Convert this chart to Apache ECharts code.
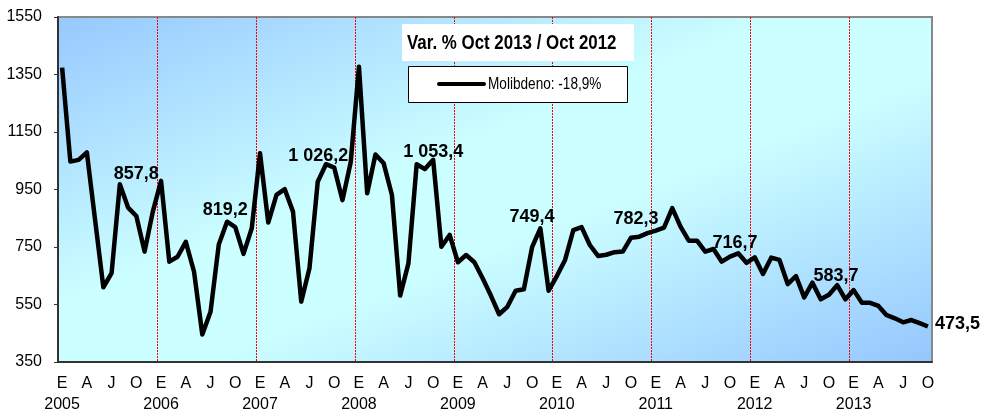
<!DOCTYPE html>
<html>
<head>
<meta charset="utf-8">
<title>Molibdeno</title>
<script src="https://cdn.jsdelivr.net/npm/echarts@6/dist/echarts.min.js"></script>
<style>
  body { margin: 0; background: #fff; }
  #main { width: 984px; height: 416px; }
</style>
</head>
<body>
<div id="main"></div>
<script>
// meses en castellano, se muestran solo E A J O
var monthLetters = ['E', 'F', 'M', 'A', 'M', 'J', 'J', 'A', 'S', 'O', 'N', 'D']
var years = [2005, 2006, 2007, 2008, 2009, 2010, 2011, 2012, 2013]
var lastMonthCount = 10 // hasta octubre 2013

// valores mensuales
var values2005 = [1374, 1047, 1053, 1079, 844, 610, 659, 968, 887, 857.8, 734, 873]
var values2006 = [980, 699, 716, 768, 664, 446, 525, 759, 838, 819.2, 726, 815]
var values2007 = [1076, 835, 931, 951, 873, 560, 676, 977, 1038, 1026.2, 913, 1045]
var values2008 = [1377, 937, 1072, 1041, 931, 581, 693, 1038, 1021, 1053.4, 751, 792]
var values2009 = [697, 722, 697, 641, 581, 516, 542, 598, 603, 749.4, 815, 598]
var values2010 = [649, 705, 809, 819, 757, 719, 723, 732, 734, 782.3, 786, 798]
var values2011 = [807, 817, 885, 821, 772, 772, 734, 743, 699, 716.7, 728, 695]
var values2012 = [714, 656, 713, 705, 621, 649, 575, 626, 568, 583.7, 617, 568]
var values2013 = [600, 556, 556, 545, 513, 502, 488, 496, 485, 473.5]

var yTicks = [350, 550, 750, 950, 1150, 1350, 1550]
var seriesName = 'Molibdeno'
var variation = '-18,9%'
var titleText = 'Var. % Oct 2013 / Oct 2012'

// meses con etiqueta (octubre de cada año)
var labeledMonths = [9, 21, 33, 45, 57, 69, 81, 93, 105]

// desplazamientos de las etiquetas (solo estilo)
var labelOffsets = {
  9: [0, -28],
  21: [-10, -3],
  33: [-16, 2],
  45: [0, 6],
  57: [0, -16],
  69: [5, -5],
  81: [5, 0],
  93: [7, -5]
}

var allValues = [].concat(values2005, values2006, values2007, values2008,
  values2009, values2010, values2011, values2012, values2013)

var categories = []
for (var y = 0; y < years.length; y++) {
  var n = y === years.length - 1 ? lastMonthCount : 12
  for (var m = 0; m < n; m++) {
    categories.push(m === 0 ? monthLetters[m] + '\n' + years[y] : monthLetters[m])
  }
}

function fmt(v) {
  var parts = v.toFixed(1).split('.')
  var intPart = parts[0].replace(/\B(?=(\d{3})+(?!\d))/g, ' ')
  return intPart + ',' + parts[1]
}

var lineData = allValues.map(function(v, i) {
  if (labeledMonths.indexOf(i) < 0) return v
  var last = i === allValues.length - 1
  return {
    value: v,
    label: {
      show: true,
      position: last ? 'right' : 'top',
      distance: last ? 7 : 5,
      offset: last ? [0, -2] : labelOffsets[i],
      formatter: function(p) { return fmt(p.value) },
      color: '#000',
      fontWeight: 'bold',
      fontSize: 18,
      fontFamily: 'Liberation Sans, Arial, sans-serif'
    }
  }
})

var font = "'Liberation Sans', Arial, sans-serif"

var myChart = echarts.init(document.getElementById('main'))
var option = {
  animation: false,
  graphic: [
    {
      // caja del titulo
      type: 'rect',
      left: 402,
      top: 24,
      shape: { width: 232, height: 37 },
      style: { fill: '#fff' },
      z: 10
    },
    {
      type: 'text',
      x: 407,
      y: 43,
      scaleX: 0.845,
      style: {
        text: titleText,
        fill: '#000',
        font: 'bold 20px ' + font,
        textVerticalAlign: 'middle'
      },
      z: 11
    },
    {
      // caja de la leyenda
      type: 'rect',
      left: 408,
      top: 66,
      shape: { width: 219, height: 36 },
      style: { fill: '#fff', stroke: '#000', lineWidth: 1 },
      z: 10
    },
    {
      type: 'line',
      shape: { x1: 439, y1: 84, x2: 484, y2: 84 },
      style: { stroke: '#000', lineWidth: 4, lineCap: 'round' },
      z: 11
    },
    {
      type: 'text',
      x: 488,
      y: 84,
      scaleX: 0.8,
      style: {
        text: seriesName + ': ' + variation,
        fill: '#000',
        font: '17px ' + font,
        textVerticalAlign: 'middle'
      },
      z: 11
    }
  ],
  grid: {
    left: 58,
    right: 52,
    top: 17,
    bottom: 54,
    outerBoundsMode: 'none',
    show: true,
    borderColor: '#888',
    borderWidth: 2,
    backgroundColor: new echarts.graphic.LinearGradient(0, 0, 0.27, 1.73, [
      { offset: 0, color: '#96c8ff' },
      { offset: 0.42, color: '#ccffff' },
      { offset: 0.58, color: '#ccffff' },
      { offset: 1, color: '#94c6ff' }
    ])
  },
  xAxis: {
    type: 'category',
    boundaryGap: true,
    data: categories,
    axisLine: { lineStyle: { color: '#333', width: 2 } },
    axisTick: { show: false },
    axisLabel: {
      interval: function(index) { return index % 3 === 0 },
      showMinLabel: true,
      color: '#000',
      fontSize: 16,
      lineHeight: 21,
      margin: 11,
      fontFamily: font
    },
    splitLine: {
      show: true,
      interval: function(index) {
        return index > 0 && index % 12 === 0
      },
      lineStyle: { color: '#ff0000', type: [2, 1], width: 1 }
    }
  },
  yAxis: [
    {
      type: 'value',
      min: yTicks[0],
      max: yTicks[yTicks.length - 1],
      interval: 200,
      axisLine: { show: true, lineStyle: { color: '#333', width: 2 } },
      axisTick: { show: true, length: 4, lineStyle: { color: '#333', width: 1 } },
      axisLabel: {
        color: '#000',
        fontSize: 16,
        margin: 16,
        fontFamily: font,
        formatter: function(v) { return String(v) }
      },
      splitLine: { show: false }
    },
    {
      // borde derecho gris, tapa la ultima linea de division
      type: 'value',
      position: 'right',
      min: yTicks[0],
      max: yTicks[yTicks.length - 1],
      interval: 200,
      axisLine: { show: true, lineStyle: { color: '#888', width: 2 } },
      axisTick: { show: false },
      axisLabel: { show: false },
      splitLine: { show: false }
    }
  ],
  series: [
    {
      name: seriesName,
      type: 'line',
      symbol: 'circle',
      symbolSize: 0,
      showSymbol: true,
      data: lineData,
      itemStyle: { color: '#000' },
      lineStyle: { color: '#000', width: 4.5, join: 'round' }
    }
  ]
}
myChart.setOption(option)
</script>
</body>
</html>
